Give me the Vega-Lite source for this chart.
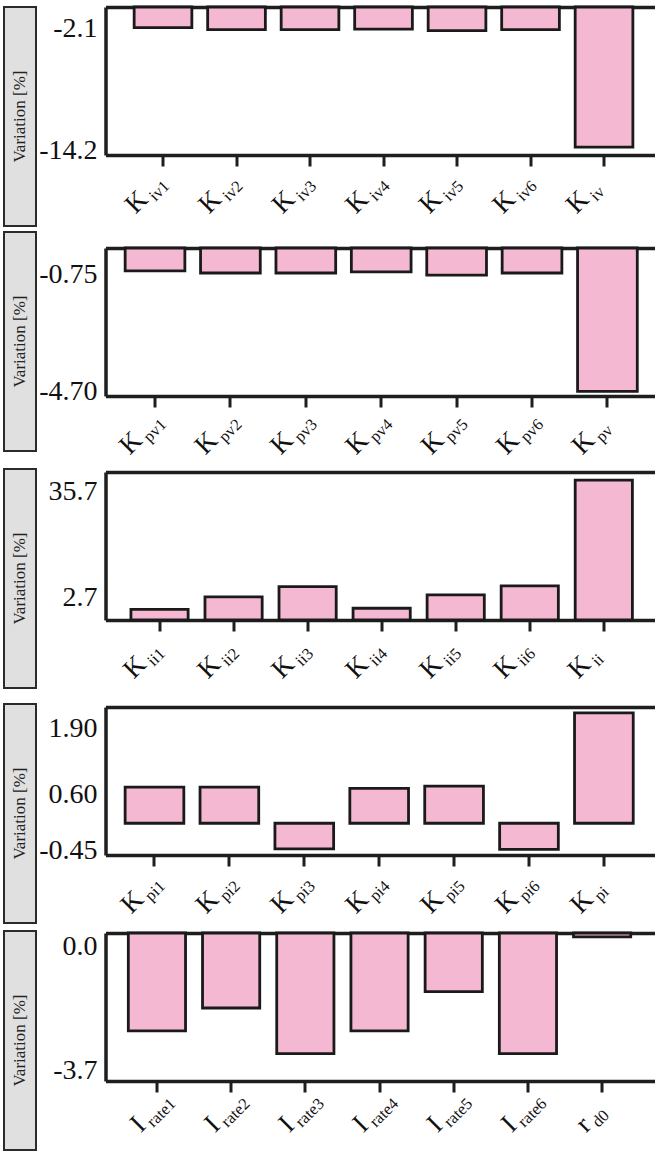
{
  "$schema": "https://vega.github.io/schema/vega-lite/v6.json",
  "padding": {"left": 3, "top": 5, "right": 0, "bottom": 0},
  "background": "white",
  "config": {"font": "Liberation Serif", "view": {"stroke": null}},
  "datasets": {
    "p1": [
      {"label": "K_iv1", "main": "K", "sub": "iv1", "value": -2.1}, {"label": "K_iv2", "main": "K", "sub": "iv2", "value": -2.3},
      {"label": "K_iv3", "main": "K", "sub": "iv3", "value": -2.3}, {"label": "K_iv4", "main": "K", "sub": "iv4", "value": -2.25},
      {"label": "K_iv5", "main": "K", "sub": "iv5", "value": -2.4}, {"label": "K_iv6", "main": "K", "sub": "iv6", "value": -2.3},
      {"label": "K_iv", "main": "K", "sub": "iv", "value": -14.2}
    ],
    "p2": [
      {"label": "K_pv1", "main": "K", "sub": "pv1", "value": -0.75}, {"label": "K_pv2", "main": "K", "sub": "pv2", "value": -0.82},
      {"label": "K_pv3", "main": "K", "sub": "pv3", "value": -0.82}, {"label": "K_pv4", "main": "K", "sub": "pv4", "value": -0.78},
      {"label": "K_pv5", "main": "K", "sub": "pv5", "value": -0.89}, {"label": "K_pv6", "main": "K", "sub": "pv6", "value": -0.82},
      {"label": "K_pv", "main": "K", "sub": "pv", "value": -4.70}
    ],
    "p3": [
      {"label": "K_ii1", "main": "K", "sub": "ii1", "value": 2.7}, {"label": "K_ii2", "main": "K", "sub": "ii2", "value": 5.9},
      {"label": "K_ii3", "main": "K", "sub": "ii3", "value": 8.5}, {"label": "K_ii4", "main": "K", "sub": "ii4", "value": 3.0},
      {"label": "K_ii5", "main": "K", "sub": "ii5", "value": 6.4}, {"label": "K_ii6", "main": "K", "sub": "ii6", "value": 8.7},
      {"label": "K_ii", "main": "K", "sub": "ii", "value": 35.7}
    ],
    "p4": [
      {"label": "K_pi1", "main": "K", "sub": "pi1", "value": 0.62}, {"label": "K_pi2", "main": "K", "sub": "pi2", "value": 0.62},
      {"label": "K_pi3", "main": "K", "sub": "pi3", "value": -0.44}, {"label": "K_pi4", "main": "K", "sub": "pi4", "value": 0.60},
      {"label": "K_pi5", "main": "K", "sub": "pi5", "value": 0.64}, {"label": "K_pi6", "main": "K", "sub": "pi6", "value": -0.45},
      {"label": "K_pi", "main": "K", "sub": "pi", "value": 1.90}
    ],
    "p5": [
      {"label": "I_rate1", "main": "I", "sub": "rate1", "value": -3.0}, {"label": "I_rate2", "main": "I", "sub": "rate2", "value": -2.3},
      {"label": "I_rate3", "main": "I", "sub": "rate3", "value": -3.7}, {"label": "I_rate4", "main": "I", "sub": "rate4", "value": -3.0},
      {"label": "I_rate5", "main": "I", "sub": "rate5", "value": -1.8}, {"label": "I_rate6", "main": "I", "sub": "rate6", "value": -3.7},
      {"label": "r_d0", "main": "r", "sub": "d0", "value": -0.12}
    ],
    "lab": [{"t": "Variation [%]"}]
  },
  "spacing": 1.5,
  "hconcat": [
    {
      "spacing": 4,
      "vconcat": [
        {"width": 32, "height": 219, "view": {"fill": "#e0e0e0", "stroke": "#2b2b2b", "strokeWidth": 2}, "data": {"name": "lab"},
         "mark": {"type": "text", "angle": 270, "font": "Liberation Serif", "fontSize": 17, "color": "#222"}, "encoding": {"text": {"field": "t"}}},
        {
          "spacing": 16,
          "vconcat": [
            {"width": 32, "height": 219, "view": {"fill": "#e0e0e0", "stroke": "#2b2b2b", "strokeWidth": 2}, "data": {"name": "lab"},
             "mark": {"type": "text", "angle": 270, "font": "Liberation Serif", "fontSize": 17, "color": "#222"}, "encoding": {"text": {"field": "t"}}},
            {
              "spacing": 14,
              "vconcat": [
                {"width": 32, "height": 219, "view": {"fill": "#e0e0e0", "stroke": "#2b2b2b", "strokeWidth": 2}, "data": {"name": "lab"},
                 "mark": {"type": "text", "angle": 270, "font": "Liberation Serif", "fontSize": 17, "color": "#222"}, "encoding": {"text": {"field": "t"}}},
                {
                  "spacing": 6,
                  "vconcat": [
                    {"width": 32, "height": 219, "view": {"fill": "#e0e0e0", "stroke": "#2b2b2b", "strokeWidth": 2}, "data": {"name": "lab"},
                     "mark": {"type": "text", "angle": 270, "font": "Liberation Serif", "fontSize": 17, "color": "#222"}, "encoding": {"text": {"field": "t"}}},
                    {"width": 32, "height": 219, "view": {"fill": "#e0e0e0", "stroke": "#2b2b2b", "strokeWidth": 2}, "data": {"name": "lab"},
                     "mark": {"type": "text", "angle": 270, "font": "Liberation Serif", "fontSize": 17, "color": "#222"}, "encoding": {"text": {"field": "t"}}}
                  ]
                }
              ]
            }
          ]
        }
      ]
    },
    {
      "spacing": 0,
      "vconcat": [
        {
          "width": 549, "height": 148,
          "data": {"name": "p1"},
          "encoding": {
            "y": {"field": "value", "type": "quantitative", "scale": {"domain": [-15, 0], "nice": false, "zero": false},
                  "axis": {"values": [-2.1, -14.2], "title": null, "ticks": false, "domain": true, "domainWidth": 3.5, "domainColor": "#1e1e1e", "grid": false, "labelFont": "Liberation Serif", "labelFontSize": 28, "labelColor": "#111", "labelPadding": 8.5, "labelBaseline": "middle",
                           "labelExpr": "replace(format(datum.value, '.1f'), '\u2212', '-')",
                           "labelOffset": {"condition": {"test": "datum.value < -10", "value": 3}, "value": 1},
                           "minExtent": 66.5, "maxExtent": 66.5}}
          },
          "layer": [
            {"mark": {"type": "bar", "fill": "#f5b8d2", "strokeWidth": 0},
             "encoding": {"y2": {"datum": 0},
               "x": {"field": "label", "type": "nominal", "sort": null, "scale": {"paddingInner": 0.215, "paddingOuter": 0.342, "align": 0.57},
                     "axis": {"orient": "bottom", "title": null, "domain": true, "domainWidth": 3.5, "domainColor": "#1e1e1e", "grid": false, "labels": false, "tickSize": 11, "tickWidth": 3, "tickColor": "#1e1e1e", "minExtent": 90.2, "maxExtent": 90.2}}}},
            {"mark": {"type": "bar", "fill": "transparent", "stroke": "#1a1a1a", "strokeWidth": 2.8},
             "encoding": {"y2": {"datum": 0},
               "x": {"field": "label", "type": "nominal", "sort": null, "scale": {"paddingInner": 0.215, "paddingOuter": 0.342, "align": 0.57},
                     "axis": {"orient": "top", "title": null, "domain": true, "domainWidth": 3.5, "domainColor": "#1e1e1e", "grid": false, "labels": false, "ticks": false, "minExtent": 2, "maxExtent": 2}}}},
            {"mark": {"type": "text", "angle": 315, "align": "right", "baseline": "alphabetic", "dx": -42.2, "dy": 22.8, "font": "Liberation Serif", "fontSize": 27, "color": "#111"},
             "encoding": {"y": {"datum": -15}, "text": {"field": "main"},
               "x": {"field": "label", "type": "nominal", "sort": null, "axis": null}}},
            {"mark": {"type": "text", "angle": 315, "align": "left", "baseline": "alphabetic", "dx": -38.5, "dy": 27.9, "font": "Liberation Serif", "fontSize": 16.5, "color": "#111"},
             "encoding": {"y": {"datum": -15}, "text": {"field": "sub"},
               "x": {"field": "label", "type": "nominal", "sort": null, "axis": null}}}
          ],
          "resolve": {"axis": {"x": "independent"}}
        },
        {
          "width": 549, "height": 148,
          "data": {"name": "p2"},
          "encoding": {
            "y": {"field": "value", "type": "quantitative", "scale": {"domain": [-4.85, 0], "nice": false, "zero": false},
                  "axis": {"values": [-0.75, -4.70], "title": null, "ticks": false, "domain": true, "domainWidth": 3.5, "domainColor": "#1e1e1e", "grid": false, "labelFont": "Liberation Serif", "labelFontSize": 28, "labelColor": "#111", "labelPadding": 8.5, "labelBaseline": "middle",
                           "labelExpr": "replace(format(datum.value, '.2f'), '\u2212', '-')",
                           "labelOffset": {"condition": {"test": "datum.value > -1", "value": 4}, "value": 0},
                           "minExtent": 66.5, "maxExtent": 66.5}}
          },
          "layer": [
            {"mark": {"type": "bar", "fill": "#f5b8d2", "strokeWidth": 0},
             "encoding": {"y2": {"datum": 0},
               "x": {"field": "label", "type": "nominal", "sort": null, "scale": {"paddingInner": 0.208, "paddingOuter": 0.2445, "align": 0.533},
                     "axis": {"orient": "bottom", "title": null, "domain": true, "domainWidth": 3.5, "domainColor": "#1e1e1e", "grid": false, "labels": false, "tickSize": 11, "tickWidth": 3, "tickColor": "#1e1e1e", "minExtent": 75.5, "maxExtent": 75.5}}}},
            {"mark": {"type": "bar", "fill": "transparent", "stroke": "#1a1a1a", "strokeWidth": 2.8},
             "encoding": {"y2": {"datum": 0},
               "x": {"field": "label", "type": "nominal", "sort": null, "scale": {"paddingInner": 0.208, "paddingOuter": 0.2445, "align": 0.533},
                     "axis": {"orient": "top", "title": null, "domain": true, "domainWidth": 3.5, "domainColor": "#1e1e1e", "grid": false, "labels": false, "ticks": false, "minExtent": 0, "maxExtent": 0}}}},
            {"mark": {"type": "text", "angle": 315, "align": "right", "baseline": "alphabetic", "dx": -40.6, "dy": 24.5, "font": "Liberation Serif", "fontSize": 27, "color": "#111"},
             "encoding": {"y": {"datum": -4.85}, "text": {"field": "main"},
               "x": {"field": "label", "type": "nominal", "sort": null, "axis": null}}},
            {"mark": {"type": "text", "angle": 315, "align": "left", "baseline": "alphabetic", "dx": -36.9, "dy": 29.6, "font": "Liberation Serif", "fontSize": 16.5, "color": "#111"},
             "encoding": {"y": {"datum": -4.85}, "text": {"field": "sub"},
               "x": {"field": "label", "type": "nominal", "sort": null, "axis": null}}}
          ],
          "resolve": {"axis": {"x": "independent"}}
        },
        {
          "width": 549, "height": 148,
          "data": {"name": "p3"},
          "encoding": {
            "y": {"field": "value", "type": "quantitative", "scale": {"domain": [0, 37.8], "nice": false, "zero": false},
                  "axis": {"values": [35.7, 2.7], "title": null, "ticks": false, "domain": true, "domainWidth": 3.5, "domainColor": "#1e1e1e", "grid": false, "labelFont": "Liberation Serif", "labelFontSize": 28, "labelColor": "#111", "labelPadding": 8.5, "labelBaseline": "middle",
                           "labelExpr": "replace(format(datum.value, '.1f'), '\u2212', '-')",
                           "labelOffset": {"condition": {"test": "datum.value > 10", "value": 11}, "value": -12},
                           "minExtent": 66.5, "maxExtent": 66.5}}
          },
          "layer": [
            {"mark": {"type": "bar", "fill": "#f5b8d2", "strokeWidth": 0},
             "encoding": {"y2": {"datum": 0},
               "x": {"field": "label", "type": "nominal", "sort": null, "scale": {"paddingInner": 0.2276, "paddingOuter": 0.321, "align": 0.535},
                     "axis": {"orient": "bottom", "title": null, "domain": true, "domainWidth": 3.5, "domainColor": "#1e1e1e", "grid": false, "labels": false, "tickSize": 11, "tickWidth": 3, "tickColor": "#1e1e1e", "minExtent": 87, "maxExtent": 87}}}},
            {"mark": {"type": "bar", "fill": "transparent", "stroke": "#1a1a1a", "strokeWidth": 2.8},
             "encoding": {"y2": {"datum": 0},
               "x": {"field": "label", "type": "nominal", "sort": null, "scale": {"paddingInner": 0.2276, "paddingOuter": 0.321, "align": 0.535},
                     "axis": {"orient": "top", "title": null, "domain": true, "domainWidth": 3.5, "domainColor": "#1e1e1e", "grid": false, "labels": false, "ticks": false, "minExtent": 0, "maxExtent": 0}}}},
            {"mark": {"type": "text", "angle": 315, "align": "right", "baseline": "alphabetic", "dx": -40.9, "dy": 24.1, "font": "Liberation Serif", "fontSize": 27, "color": "#111"},
             "encoding": {"y": {"datum": 0}, "text": {"field": "main"},
               "x": {"field": "label", "type": "nominal", "sort": null, "axis": null}}},
            {"mark": {"type": "text", "angle": 315, "align": "left", "baseline": "alphabetic", "dx": -37.2, "dy": 29.2, "font": "Liberation Serif", "fontSize": 16.5, "color": "#111"},
             "encoding": {"y": {"datum": 0}, "text": {"field": "sub"},
               "x": {"field": "label", "type": "nominal", "sort": null, "axis": null}}}
          ],
          "resolve": {"axis": {"x": "independent"}}
        },
        {
          "width": 549, "height": 148,
          "data": {"name": "p4"},
          "encoding": {
            "y": {"field": "value", "type": "quantitative", "scale": {"domain": [-0.546, 2.0], "nice": false, "zero": false},
                  "axis": {"values": [1.90, 0.60, -0.45], "title": null, "ticks": false, "domain": true, "domainWidth": 3.5, "domainColor": "#1e1e1e", "grid": false, "labelFont": "Liberation Serif", "labelFontSize": 28, "labelColor": "#111", "labelPadding": 8.5, "labelBaseline": "middle",
                           "labelExpr": "replace(format(datum.value, '.2f'), '\u2212', '-')",
                           "labelOffset": {"condition": [{"test": "datum.value > 1", "value": 16}, {"test": "datum.value > 0", "value": 6}], "value": 1},
                           "minExtent": 66.5, "maxExtent": 66.5}}
          },
          "layer": [
            {"mark": {"type": "bar", "fill": "#f5b8d2", "strokeWidth": 0},
             "encoding": {"y2": {"datum": 0},
               "x": {"field": "label", "type": "nominal", "sort": null, "scale": {"paddingInner": 0.2163, "paddingOuter": 0.273, "align": 0.48},
                     "axis": {"orient": "bottom", "title": null, "domain": true, "domainWidth": 3.5, "domainColor": "#1e1e1e", "grid": false, "labels": false, "tickSize": 11, "tickWidth": 3, "tickColor": "#1e1e1e", "minExtent": 76, "maxExtent": 76}}}},
            {"mark": {"type": "bar", "fill": "transparent", "stroke": "#1a1a1a", "strokeWidth": 2.8},
             "encoding": {"y2": {"datum": 0},
               "x": {"field": "label", "type": "nominal", "sort": null, "scale": {"paddingInner": 0.2163, "paddingOuter": 0.273, "align": 0.48},
                     "axis": {"orient": "top", "title": null, "domain": true, "domainWidth": 3.5, "domainColor": "#1e1e1e", "grid": false, "labels": false, "ticks": false, "minExtent": 0, "maxExtent": 0}}}},
            {"mark": {"type": "text", "angle": 315, "align": "right", "baseline": "alphabetic", "dx": -39.2, "dy": 25.9, "font": "Liberation Serif", "fontSize": 27, "color": "#111"},
             "encoding": {"y": {"datum": -0.546}, "text": {"field": "main"},
               "x": {"field": "label", "type": "nominal", "sort": null, "axis": null}}},
            {"mark": {"type": "text", "angle": 315, "align": "left", "baseline": "alphabetic", "dx": -35.5, "dy": 31.0, "font": "Liberation Serif", "fontSize": 16.5, "color": "#111"},
             "encoding": {"y": {"datum": -0.546}, "text": {"field": "sub"},
               "x": {"field": "label", "type": "nominal", "sort": null, "axis": null}}}
          ],
          "resolve": {"axis": {"x": "independent"}}
        },
        {
          "width": 549, "height": 148,
          "data": {"name": "p5"},
          "encoding": {
            "y": {"field": "value", "type": "quantitative", "scale": {"domain": [-4.54, 0], "nice": false, "zero": false},
                  "axis": {"values": [0, -3.7], "title": null, "ticks": false, "domain": true, "domainWidth": 3.5, "domainColor": "#1e1e1e", "grid": false, "labelFont": "Liberation Serif", "labelFontSize": 28, "labelColor": "#111", "labelPadding": 8.5, "labelBaseline": "middle",
                           "labelExpr": "replace(format(datum.value, '.1f'), '\u2212', '-')",
                           "labelOffset": {"condition": {"test": "datum.value > -1", "value": 13}, "value": 17},
                           "minExtent": 66.5, "maxExtent": 66.5}}
          },
          "layer": [
            {"mark": {"type": "bar", "fill": "#f5b8d2", "strokeWidth": 0},
             "encoding": {"y2": {"datum": 0},
               "x": {"field": "label", "type": "nominal", "sort": null, "scale": {"paddingInner": 0.229, "paddingOuter": 0.314, "align": 0.49},
                     "axis": {"orient": "bottom", "title": null, "domain": true, "domainWidth": 3.5, "domainColor": "#1e1e1e", "grid": false, "labels": false, "tickSize": 11, "tickWidth": 3, "tickColor": "#1e1e1e", "minExtent": 60, "maxExtent": 60}}}},
            {"mark": {"type": "bar", "fill": "transparent", "stroke": "#1a1a1a", "strokeWidth": 2.8},
             "encoding": {"y2": {"datum": 0},
               "x": {"field": "label", "type": "nominal", "sort": null, "scale": {"paddingInner": 0.229, "paddingOuter": 0.314, "align": 0.49},
                     "axis": {"orient": "top", "title": null, "domain": true, "domainWidth": 3.5, "domainColor": "#1e1e1e", "grid": false, "labels": false, "ticks": false, "minExtent": 0, "maxExtent": 0}}}},
            {"mark": {"type": "text", "angle": 315, "align": "right", "baseline": "alphabetic", "dx": -39.5, "dy": 25.6, "font": "Liberation Serif", "fontSize": 27, "color": "#111"},
             "encoding": {"y": {"datum": -4.54}, "text": {"field": "main"},
               "x": {"field": "label", "type": "nominal", "sort": null, "axis": null}}},
            {"mark": {"type": "text", "angle": 315, "align": "left", "baseline": "alphabetic", "dx": -35.8, "dy": 30.7, "font": "Liberation Serif", "fontSize": 16.5, "color": "#111"},
             "encoding": {"y": {"datum": -4.54}, "text": {"field": "sub"},
               "x": {"field": "label", "type": "nominal", "sort": null, "axis": null}}}
          ],
          "resolve": {"axis": {"x": "independent"}}
        }
      ]
    }
  ]
}
